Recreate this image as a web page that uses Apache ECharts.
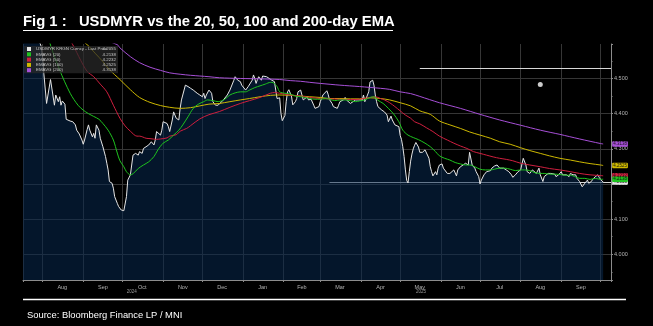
<!DOCTYPE html>
<html>
<head>
<meta charset="utf-8">
<script src="https://cdn.jsdelivr.net/npm/echarts@6/dist/echarts.min.js"></script>
<style>
html,body{margin:0;padding:0;background:#000;}
#c{width:653px;height:326px;}
</style>
</head>
<body>
<div id="c"></div>
<script>
// ---------- data ----------
const priceDates = ['2024-07-17','2024-07-22','2024-07-27','2024-07-31','2024-08-01','2024-08-02','2024-08-04','2024-08-07','2024-08-10','2024-08-11','2024-08-13','2024-08-14','2024-08-15','2024-08-16','2024-08-18','2024-08-19','2024-08-22','2024-08-24','2024-08-26','2024-08-27','2024-08-29','2024-08-31','2024-09-01','2024-09-02','2024-09-04','2024-09-05','2024-09-06','2024-09-08','2024-09-09','2024-09-10','2024-09-11','2024-09-13','2024-09-14','2024-09-15','2024-09-16','2024-09-18','2024-09-19','2024-09-20','2024-09-21','2024-09-23','2024-09-24','2024-09-25','2024-09-27','2024-09-28','2024-09-29','2024-09-30','2024-10-02','2024-10-04','2024-10-05','2024-10-07','2024-10-09','2024-10-11','2024-10-13','2024-10-14','2024-10-16','2024-10-17','2024-10-18','2024-10-21','2024-10-23','2024-10-25','2024-10-26','2024-10-27','2024-10-28','2024-10-30','2024-10-31','2024-11-01','2024-11-02','2024-11-04','2024-11-05','2024-11-06','2024-11-08','2024-11-09','2024-11-10','2024-11-11','2024-11-13','2024-11-14','2024-11-15','2024-11-16','2024-11-18','2024-11-19','2024-11-20','2024-11-22','2024-11-23','2024-11-24','2024-11-25','2024-11-27','2024-11-28','2024-11-29','2024-12-01','2024-12-02','2024-12-03','2024-12-04','2024-12-06','2024-12-08','2024-12-09','2024-12-11','2024-12-12','2024-12-13','2024-12-14','2024-12-17','2024-12-20','2024-12-22','2024-12-25','2024-12-26','2024-12-27','2024-12-28','2024-12-30','2024-12-31','2025-01-01','2025-01-03','2025-01-04','2025-01-05','2025-01-06','2025-01-08','2025-01-09','2025-01-10','2025-01-11','2025-01-12','2025-01-13','2025-01-15','2025-01-16','2025-01-17','2025-01-19','2025-01-20','2025-01-21','2025-01-22','2025-01-23','2025-01-25','2025-01-26','2025-01-27','2025-01-28','2025-01-29','2025-01-30','2025-01-31','2025-02-01','2025-02-02','2025-02-03','2025-02-04','2025-02-05','2025-02-06','2025-02-07','2025-02-08','2025-02-10','2025-02-11','2025-02-12','2025-02-14','2025-02-15','2025-02-16','2025-02-17','2025-02-19','2025-02-20','2025-02-21','2025-02-22','2025-02-24','2025-02-25','2025-02-26','2025-02-28','2025-03-01','2025-03-03','2025-03-06','2025-03-07','2025-03-08','2025-03-10','2025-03-11','2025-03-12','2025-03-14','2025-03-15','2025-03-16','2025-03-17','2025-03-19','2025-03-20','2025-03-21','2025-03-22','2025-03-24','2025-03-25','2025-03-26','2025-03-28','2025-03-29','2025-03-30','2025-03-31','2025-04-02','2025-04-03','2025-04-04','2025-04-05','2025-04-07','2025-04-08','2025-04-10','2025-04-11','2025-04-12','2025-04-13','2025-04-14','2025-04-15','2025-04-17','2025-04-18','2025-04-19','2025-04-21','2025-04-22','2025-04-23','2025-04-24','2025-04-25','2025-04-26','2025-04-27','2025-04-28','2025-04-30','2025-05-01','2025-05-02','2025-05-03','2025-05-04','2025-05-05','2025-05-06','2025-05-07','2025-05-08','2025-05-09','2025-05-10','2025-05-11','2025-05-12','2025-05-13','2025-05-14','2025-05-15','2025-05-16','2025-05-17','2025-05-18','2025-05-19','2025-05-20','2025-05-21','2025-05-23','2025-05-24','2025-05-25','2025-05-26','2025-05-28','2025-05-29','2025-05-30','2025-05-31','2025-06-02','2025-06-03','2025-06-04','2025-06-06','2025-06-07','2025-06-08','2025-06-09','2025-06-11','2025-06-12','2025-06-13','2025-06-14','2025-06-16','2025-06-17','2025-06-18','2025-06-20','2025-06-21','2025-06-22','2025-06-23','2025-06-25','2025-06-26','2025-06-27','2025-06-28','2025-06-30','2025-07-01','2025-07-02','2025-07-04','2025-07-05','2025-07-06','2025-07-07','2025-07-09','2025-07-10','2025-07-11','2025-07-12','2025-07-14','2025-07-15','2025-07-16','2025-07-19','2025-07-21','2025-07-23','2025-07-24','2025-07-25','2025-07-26','2025-07-28','2025-07-29','2025-07-30','2025-08-01','2025-08-02','2025-08-03','2025-08-04','2025-08-05','2025-08-06','2025-08-08','2025-08-09','2025-08-10','2025-08-11','2025-08-13','2025-08-14','2025-08-15','2025-08-16','2025-08-18','2025-08-19','2025-08-20','2025-08-22','2025-08-24','2025-08-25','2025-08-27','2025-08-28','2025-08-29','2025-08-30','2025-09-01','2025-09-02','2025-09-03','2025-09-05','2025-09-06','2025-09-07','2025-09-08','2025-09-10','2025-09-11','2025-09-12','2025-09-13','2025-09-15','2025-09-16','2025-09-17','2025-09-19','2025-09-20','2025-09-21','2025-09-22','2025-09-24','2025-09-25','2025-09-26','2025-09-27','2025-09-29','2025-09-30','2025-10-01','2025-10-02','2025-10-03'];
const priceValues = [4.67,4.66,4.63,4.59,4.56,4.51,4.429,4.497,4.424,4.453,4.434,4.448,4.424,4.436,4.427,4.384,4.379,4.377,4.368,4.353,4.342,4.325,4.313,4.325,4.355,4.368,4.353,4.334,4.344,4.33,4.368,4.353,4.33,4.334,4.306,4.278,4.259,4.24,4.207,4.202,4.188,4.164,4.145,4.136,4.14,4.126,4.124,4.164,4.211,4.226,4.282,4.287,4.282,4.292,4.287,4.301,4.306,4.311,4.32,4.311,4.325,4.349,4.353,4.339,4.353,4.377,4.382,4.372,4.363,4.349,4.382,4.405,4.396,4.387,4.382,4.415,4.439,4.443,4.481,4.484,4.477,4.472,4.474,4.467,4.462,4.458,4.459,4.453,4.448,4.458,4.443,4.453,4.467,4.458,4.434,4.424,4.42,4.424,4.429,4.439,4.453,4.467,4.495,4.505,4.503,4.495,4.491,4.481,4.477,4.467,4.469,4.477,4.481,4.495,4.51,4.5,4.486,4.497,4.505,4.495,4.507,4.51,4.505,4.51,4.5,4.505,4.495,4.491,4.467,4.443,4.44,4.445,4.40,4.38,4.382,4.395,4.435,4.462,4.468,4.472,4.45,4.425,4.434,4.443,4.462,4.467,4.453,4.439,4.434,4.448,4.439,4.434,4.441,4.424,4.415,4.412,4.42,4.434,4.453,4.465,4.455,4.44,4.429,4.42,4.424,4.415,4.424,4.434,4.429,4.44,4.446,4.439,4.434,4.429,4.424,4.434,4.439,4.434,4.439,4.441,4.439,4.453,4.434,4.443,4.462,4.49,4.495,4.481,4.453,4.434,4.42,4.415,4.41,4.41,4.405,4.396,4.377,4.382,4.393,4.382,4.377,4.368,4.372,4.363,4.338,4.327,4.306,4.278,4.24,4.21,4.203,4.235,4.265,4.285,4.30,4.31,4.318,4.315,4.305,4.29,4.288,4.29,4.292,4.297,4.292,4.273,4.249,4.235,4.223,4.235,4.226,4.245,4.254,4.257,4.245,4.249,4.23,4.235,4.23,4.232,4.24,4.235,4.223,4.24,4.249,4.251,4.254,4.259,4.257,4.254,4.29,4.254,4.249,4.245,4.235,4.221,4.2,4.211,4.226,4.221,4.235,4.24,4.238,4.245,4.249,4.251,4.254,4.249,4.245,4.245,4.24,4.235,4.23,4.226,4.219,4.226,4.23,4.235,4.24,4.245,4.273,4.278,4.254,4.235,4.23,4.235,4.24,4.238,4.23,4.235,4.245,4.226,4.207,4.221,4.226,4.23,4.23,4.226,4.228,4.221,4.223,4.226,4.235,4.226,4.23,4.226,4.23,4.221,4.23,4.226,4.221,4.226,4.216,4.207,4.211,4.192,4.202,4.207,4.211,4.202,4.207,4.213,4.216,4.221,4.226,4.219,4.213,4.211,4.2055];

const ema20Dates = ['2024-07-31','2024-08-07','2024-08-14','2024-08-22','2024-08-28','2024-09-01','2024-09-05','2024-09-09','2024-09-13','2024-09-16','2024-09-20','2024-09-24','2024-09-27','2024-09-29','2024-10-02','2024-10-04','2024-10-07','2024-10-09','2024-10-13','2024-10-17','2024-10-21','2024-10-25','2024-10-28','2024-11-01','2024-11-05','2024-11-09','2024-11-13','2024-11-16','2024-11-20','2024-11-24','2024-11-28','2024-12-02','2024-12-05','2024-12-09','2024-12-13','2024-12-18','2024-12-22','2024-12-26','2024-12-30','2025-01-03','2025-01-06','2025-01-10','2025-01-14','2025-01-18','2025-01-22','2025-01-24','2025-01-27','2025-01-29','2025-02-02','2025-02-06','2025-02-10','2025-02-14','2025-02-17','2025-02-21','2025-02-25','2025-03-01','2025-03-05','2025-03-08','2025-03-12','2025-03-16','2025-03-20','2025-03-24','2025-03-28','2025-03-31','2025-04-04','2025-04-08','2025-04-11','2025-04-14','2025-04-18','2025-04-22','2025-04-26','2025-04-30','2025-05-03','2025-05-07','2025-05-11','2025-05-15','2025-05-20','2025-05-24','2025-05-28','2025-05-31','2025-06-04','2025-06-08','2025-06-12','2025-06-16','2025-06-20','2025-06-23','2025-06-27','2025-07-01','2025-07-05','2025-07-09','2025-07-12','2025-07-16','2025-07-20','2025-07-24','2025-07-28','2025-08-01','2025-08-04','2025-08-08','2025-08-12','2025-08-16','2025-08-19','2025-08-23','2025-08-27','2025-08-31','2025-09-04','2025-09-08','2025-09-12','2025-09-15','2025-09-19','2025-09-23','2025-09-27','2025-10-01','2025-10-03'];
const ema20Values = [4.69,4.595,4.524,4.458,4.424,4.41,4.40,4.392,4.384,4.372,4.353,4.325,4.288,4.266,4.249,4.235,4.226,4.229,4.244,4.254,4.263,4.278,4.297,4.316,4.325,4.339,4.353,4.368,4.391,4.415,4.427,4.434,4.439,4.437,4.434,4.441,4.453,4.459,4.462,4.462,4.467,4.474,4.479,4.484,4.489,4.488,4.477,4.462,4.458,4.456,4.45,4.448,4.446,4.443,4.441,4.441,4.443,4.441,4.437,4.439,4.439,4.437,4.434,4.436,4.439,4.446,4.448,4.438,4.429,4.415,4.399,4.377,4.353,4.339,4.332,4.326,4.316,4.306,4.292,4.28,4.273,4.268,4.261,4.257,4.254,4.254,4.249,4.242,4.24,4.24,4.242,4.245,4.245,4.242,4.238,4.24,4.24,4.238,4.232,4.23,4.23,4.228,4.228,4.227,4.225,4.225,4.22,4.216,4.216,4.213,4.216,4.213,4.2138];

const ema50Dates = ['2024-07-31','2024-08-24','2024-08-30','2024-09-04','2024-09-09','2024-09-14','2024-09-19','2024-09-24','2024-09-29','2024-10-03','2024-10-07','2024-10-12','2024-10-14','2024-10-19','2024-10-22','2024-10-27','2024-10-30','2024-11-04','2024-11-06','2024-11-11','2024-11-14','2024-11-19','2024-11-22','2024-11-29','2024-12-06','2024-12-14','2024-12-22','2024-12-30','2025-01-06','2025-01-14','2025-01-22','2025-01-25','2025-01-29','2025-02-06','2025-02-14','2025-02-21','2025-03-01','2025-03-08','2025-03-16','2025-03-24','2025-03-31','2025-04-08','2025-04-12','2025-04-16','2025-04-19','2025-04-23','2025-04-27','2025-05-01','2025-05-05','2025-05-09','2025-05-12','2025-05-16','2025-05-21','2025-05-26','2025-05-31','2025-06-06','2025-06-11','2025-06-16','2025-06-21','2025-06-26','2025-07-01','2025-07-06','2025-07-11','2025-07-16','2025-07-21','2025-07-26','2025-08-01','2025-08-08','2025-08-16','2025-08-23','2025-08-31','2025-09-08','2025-09-15','2025-09-23','2025-10-01','2025-10-03'];
const ema50Values = [4.75,4.596,4.552,4.52,4.505,4.484,4.462,4.424,4.387,4.365,4.35,4.336,4.336,4.33,4.329,4.327,4.328,4.331,4.336,4.34,4.35,4.358,4.366,4.385,4.397,4.406,4.418,4.429,4.437,4.446,4.458,4.46,4.458,4.453,4.45,4.446,4.443,4.442,4.441,4.44,4.441,4.446,4.448,4.443,4.439,4.431,4.42,4.408,4.396,4.387,4.377,4.371,4.36,4.349,4.336,4.325,4.316,4.308,4.301,4.292,4.287,4.282,4.277,4.273,4.27,4.266,4.259,4.254,4.249,4.244,4.24,4.235,4.23,4.226,4.224,4.2232];

const ema100Dates = ['2024-07-31','2024-09-04','2024-09-10','2024-09-16','2024-09-21','2024-09-29','2024-10-07','2024-10-14','2024-10-22','2024-10-30','2024-11-06','2024-11-14','2024-11-22','2024-11-29','2024-12-06','2024-12-14','2024-12-22','2024-12-30','2025-01-06','2025-01-14','2025-01-22','2025-01-29','2025-02-06','2025-02-14','2025-02-21','2025-03-01','2025-03-08','2025-03-16','2025-03-24','2025-03-31','2025-04-08','2025-04-16','2025-04-23','2025-05-01','2025-05-09','2025-05-16','2025-05-24','2025-05-31','2025-06-08','2025-06-16','2025-06-23','2025-07-01','2025-07-09','2025-07-16','2025-07-24','2025-08-01','2025-08-08','2025-08-16','2025-08-23','2025-08-31','2025-09-08','2025-09-15','2025-09-23','2025-10-01','2025-10-03'];
const ema100Values = [4.70,4.596,4.572,4.548,4.525,4.497,4.468,4.446,4.432,4.423,4.418,4.415,4.417,4.422,4.427,4.429,4.434,4.439,4.443,4.448,4.452,4.453,4.452,4.45,4.448,4.446,4.443,4.443,4.442,4.442,4.445,4.443,4.439,4.431,4.422,4.408,4.398,4.379,4.368,4.358,4.348,4.339,4.33,4.32,4.313,4.303,4.295,4.287,4.28,4.273,4.268,4.263,4.258,4.254,4.2525];

const ema200Dates = ['2024-07-31','2024-09-27','2024-09-29','2024-10-07','2024-10-14','2024-10-22','2024-10-30','2024-11-06','2024-11-14','2024-11-22','2024-11-29','2024-12-06','2024-12-14','2024-12-30','2025-01-14','2025-01-29','2025-02-06','2025-02-14','2025-02-21','2025-03-01','2025-03-16','2025-03-31','2025-04-16','2025-04-23','2025-05-01','2025-05-09','2025-05-16','2025-05-31','2025-06-16','2025-07-01','2025-07-16','2025-08-01','2025-08-16','2025-08-31','2025-09-15','2025-10-01','2025-10-03'];
const ema200Values = [4.68,4.596,4.587,4.562,4.545,4.532,4.523,4.516,4.512,4.509,4.507,4.505,4.502,4.5,4.499,4.497,4.494,4.492,4.489,4.486,4.481,4.477,4.472,4.469,4.462,4.457,4.449,4.431,4.415,4.398,4.382,4.367,4.353,4.341,4.328,4.315,4.3138];

const seriesNames = ['USDMYR KRGN Curncy - Last Price','EMAVG (20)','EMAVG (50)','EMAVG (100)','EMAVG (200)'];
const seriesColors = ['#e6e6e6','#1fc41f','#cf1f3f','#cdb800','#a64fd6'];

// annotations drawn on the reference
const resistanceLine = { from: '2025-05-16', to: '2025-10-09', value: 4.528 };
const supportLine = { from: '2025-03-08', to: '2025-10-09', value: 4.205 };
const markerPoint = [['2025-08-16', 4.483]];

const axisMin = '2024-07-17', axisMax = '2025-10-09';
const yMin = 3.927, yMax = 4.598;
const monthLabelDates = ['2024-08-16','2024-09-16','2024-10-16','2024-11-16','2024-12-16','2025-01-16','2025-02-15','2025-03-16','2025-04-16','2025-05-16','2025-06-16','2025-07-16','2025-08-16','2025-09-16'];
const yearLabelDates = ['2024-10-08','2025-05-17'];

// ---------- chart ----------
const ts = s => new Date(s + 'T00:00:00').getTime();
const zip = (d, v) => d.map((x, i) => [x, v[i]]);
const allDates = [priceDates, ema20Dates, ema50Dates, ema100Dates, ema200Dates];
const allValues = [priceValues, ema20Values, ema50Values, ema100Values, ema200Values];
const lastVal = {};
seriesNames.forEach((n, i) => { lastVal[n] = allValues[i][allValues[i].length - 1]; });

const chart = echarts.init(document.getElementById('c'), null, { renderer: 'canvas' });
const MONTHS = ['Jan','Feb','Mar','Apr','May','Jun','Jul','Aug','Sep','Oct','Nov','Dec'];

const lineSeries = seriesNames.map((name, i) => {
  const s = {
    name: name,
    type: 'line',
    xAxisIndex: 0,
    data: zip(allDates[i], allValues[i]),
    showSymbol: false,
    symbol: 'none',
    smooth: i === 0 ? false : 0.3,
    z: 10 - i,
    lineStyle: { color: seriesColors[i], width: 1 },
    itemStyle: { color: seriesColors[i] },
    endLabel: {
      show: true,
      distance: 9,
      formatter: p => p.value[1].toFixed(4),
      fontSize: 4.5,
      fontFamily: 'Liberation Sans',
      color: '#111',
      backgroundColor: seriesColors[i],
      padding: [0.5, 1, 0, 1],
      borderRadius: 1
    }
  };
  if (i === 0) {
    s.z = 5;
    s.areaStyle = { color: 'rgba(8,40,78,0.78)', origin: 'start' };
    s.markLine = {
      silent: true,
      symbol: 'none',
      label: { show: false },
      data: [
        [{ coord: [resistanceLine.from, resistanceLine.value] }, { coord: [resistanceLine.to, resistanceLine.value] }],
        [{ coord: [supportLine.from, supportLine.value] }, { coord: [supportLine.to, supportLine.value] }]
      ],
      lineStyle: { color: '#d8d8d8', width: 1.2, type: 'solid' }
    };
  }
  return s;
});

lineSeries.push({
  name: 'marker',
  type: 'scatter',
  xAxisIndex: 0,
  data: markerPoint,
  symbolSize: 5,
  itemStyle: { color: '#ffffff' },
  z: 12
});

const option = {
  backgroundColor: '#000000',
  animation: false,
  title: [
    {
      text: 'Fig 1 :   USDMYR vs the 20, 50, 100 and 200-day EMA',
      left: 23, top: 14, padding: 0,
      textStyle: { color: '#ffffff', fontSize: 14.8, fontWeight: 'bold', fontFamily: 'Liberation Sans' }
    },
    {
      text: 'Source: Bloomberg Finance LP / MNI',
      left: 27, top: 311, padding: 0,
      textStyle: { color: '#ffffff', fontSize: 9.4, fontWeight: 'normal', fontFamily: 'Liberation Sans' }
    }
  ],
  graphic: [
    { type: 'line', shape: { x1: 23, y1: 30.5, x2: 393, y2: 30.5 }, style: { stroke: '#ffffff', lineWidth: 1.2 } },
    { type: 'line', shape: { x1: 23, y1: 299.5, x2: 626, y2: 299.5 }, style: { stroke: '#ffffff', lineWidth: 1.6 } }
  ],
  legend: {
    data: seriesNames,
    orient: 'vertical',
    left: 24, top: 46,
    itemWidth: 4, itemHeight: 4, itemGap: 1.3,
    padding: [1, 2, 1, 3],
    icon: 'rect',
    backgroundColor: 'rgba(42,42,42,0.72)',
    z: 20,
    formatter: n => '{n|' + n + '}{v|' + lastVal[n].toFixed(4) + '}',
    textStyle: {
      color: '#c8c8c8', fontSize: 4.4, fontFamily: 'Liberation Sans',
      rich: {
        n: { width: 68, fontSize: 4.4, color: '#c8c8c8', fontFamily: 'Liberation Sans' },
        v: { width: 12, align: 'right', fontSize: 4.4, color: '#c8c8c8', fontFamily: 'Liberation Sans' }
      }
    },
    selectedMode: false
  },
  grid: { left: 23, right: 42, top: 44, bottom: 46, containLabel: false },
  xAxis: [
    {
      type: 'time',
      min: axisMin, max: axisMax,
      minInterval: 30 * 864e5, maxInterval: 30 * 864e5,
      axisLine: { show: true, lineStyle: { color: '#8c8c8c', width: 1 } },
      axisTick: { show: true, length: 2, lineStyle: { color: '#8c8c8c' } },
      splitLine: { show: true, lineStyle: { color: '#363636', width: 1 } },
      axisLabel: { show: false }
    },
    {
      type: 'value',
      min: ts(axisMin), max: ts(axisMax),
      position: 'bottom',
      axisLine: { show: false },
      axisTick: { show: false },
      splitLine: { show: false },
      axisLabel: {
        customValues: monthLabelDates.map(ts),
        formatter: v => MONTHS[new Date(v).getMonth()],
        color: '#b4b4b4', fontSize: 5.5, fontFamily: 'Liberation Sans', margin: 4
      }
    },
    {
      type: 'value',
      min: ts(axisMin), max: ts(axisMax),
      position: 'bottom', offset: 7,
      axisLine: { show: false },
      axisTick: { show: false },
      splitLine: { show: false },
      axisLabel: {
        customValues: yearLabelDates.map(ts),
        formatter: v => String(new Date(v).getFullYear()),
        color: '#9a9a9a', fontSize: 4.5, fontFamily: 'Liberation Sans', margin: 2
      }
    }
  ],
  yAxis: {
    type: 'value',
    position: 'right',
    min: yMin, max: yMax,
    splitNumber: 7,
    axisLine: { show: true, lineStyle: { color: '#8c8c8c', width: 1 } },
    axisTick: { show: true, length: 2, lineStyle: { color: '#8c8c8c' } },
    minorTick: { show: true, splitNumber: 2, length: 1.5, lineStyle: { color: '#8c8c8c' } },
    splitLine: { show: true, showMinLine: false, showMaxLine: false, lineStyle: { color: '#363636', width: 1 } },
    axisLabel: {
      showMinLabel: false, showMaxLabel: false,
      formatter: v => (Math.abs(v * 10 - Math.round(v * 10)) < 1e-6 ? v.toFixed(3) : ''),
      color: '#b4b4b4', fontSize: 5.5, fontFamily: 'Liberation Sans', margin: 3
    }
  },
  series: lineSeries
};
chart.setOption(option);
</script>
</body>
</html>
